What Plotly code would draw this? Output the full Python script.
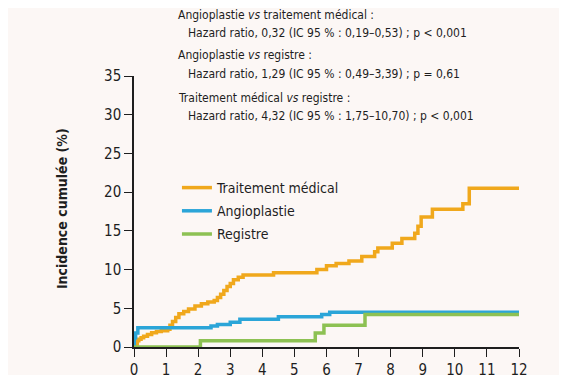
import plotly.graph_objects as go

# ---- data ----
t_med = [0, 0.05, 0.1, 0.15, 0.22, 0.3, 0.42, 0.55, 0.7, 0.85, 1.05, 1.12, 1.2, 1.3, 1.4, 1.55, 1.7, 1.9, 2.1, 2.3,
         2.5, 2.6, 2.7, 2.8, 2.9, 3.0, 3.1, 3.25, 3.4, 4.35, 5.7, 6.0, 6.3, 6.7, 7.1, 7.5, 7.6, 8.05, 8.35, 8.75,
         8.85, 8.95, 9.3, 10.25, 10.45, 12]
y_med = [0, 0.4, 0.8, 1.0, 1.2, 1.4, 1.6, 1.85, 2.0, 2.1, 2.3, 2.8, 3.3, 3.8, 4.3, 4.6, 4.9, 5.3, 5.6, 5.8,
         6.0, 6.4, 6.8, 7.3, 7.8, 8.2, 8.7, 9.0, 9.3, 9.6, 10.0, 10.5, 10.8, 11.1, 11.7, 12.3, 12.8, 13.4, 14.0, 14.7,
         15.6, 16.8, 17.8, 18.5, 20.5, 20.5]

t_angio = [0, 0.01, 0.05, 0.12, 2.4, 2.6, 3.0, 3.3, 4.5, 5.85, 6.1, 12]
y_angio = [0, 1.2, 1.8, 2.5, 2.7, 2.9, 3.2, 3.6, 3.9, 4.2, 4.5, 4.5]

t_reg = [0, 2.07, 5.65, 5.92, 7.2, 12]
y_reg = [0, 0.8, 1.8, 2.8, 4.2, 4.2]

x_ticks = list(range(0, 13))
y_ticks = [0, 5, 10, 15, 20, 25, 30, 35]

series_names = ["Traitement médical", "Angioplastie", "Registre"]
colors = ["#F0A81C", "#2BA5D8", "#8DC153"]

annot_lines = [
    ("Angioplastie <i>vs</i> traitement médical :", 0),
    ("Hazard ratio, 0,32 (IC 95 % : 0,19–0,53) ; p < 0,001", 1),
    ("Angioplastie <i>vs</i> registre :", 0),
    ("Hazard ratio, 1,29 (IC 95 % : 0,49–3,39) ; p = 0,61", 1),
    ("Traitement médical <i>vs</i> registre :", 0),
    ("Hazard ratio, 4,32 (IC 95 % : 1,75–10,70) ; p < 0,001", 1),
]
y_title = "Incidence cumulée (%)"

FONT = "DejaVu Sans Condensed, Liberation Sans Narrow, sans-serif"
BG = "#FCF7F5"
TXT = "#1E1E1E"

OFF = 8  # page body margin
W, H = 567, 375
L, R, T, B = 134 - OFF, 567 - (519.5 - OFF), 76 - OFF, 375 - (347 - OFF)
pw, ph = W - L - R, H - T - B

def px2x(px):
    return (px - OFF - L) / pw

def px2y(py):
    return (H - B - (py - OFF)) / ph

fig = go.Figure()
for i, (name, tx, ty, c) in enumerate(zip(series_names, [t_med, t_angio, t_reg], [y_med, y_angio, y_reg], colors)):
    fig.add_trace(go.Scatter(x=tx, y=ty, mode="lines", name=name, legendgroup=f"g{i}",
                             line=dict(color=c, width=3.5, shape="hv")))

ys = [15, 33, 55, 74, 98, 116]
for (txt, ind), py in zip(annot_lines, ys):
    fig.add_annotation(text=txt, xref="paper", yref="paper", x=px2x(176 + 10 * ind), y=px2y(py),
                       xanchor="left", yanchor="middle", showarrow=False,
                       font=dict(family=FONT, size=12, color=TXT))

fig.add_annotation(text="<b>" + y_title + "</b>", xref="paper", yref="paper", x=px2x(62), y=px2y(209),
                   xanchor="center", yanchor="middle", textangle=-90, showarrow=False,
                   font=dict(family=FONT, size=14, color=TXT))

fig.update_layout(
    width=W, height=H,
    margin=dict(l=L, r=R, t=T, b=B, autoexpand=False),
    paper_bgcolor=BG, plot_bgcolor=BG,
    font=dict(family=FONT, color=TXT),
    showlegend=True,
    legend=dict(x=px2x(177), y=px2y(172), xanchor="left", yanchor="top",
                bgcolor="rgba(0,0,0,0)", font=dict(family=FONT, size=14, color=TXT),
                tracegroupgap=2),
    xaxis=dict(range=[0, 12], tickvals=x_ticks, ticktext=[str(v) for v in x_ticks], automargin=False,
               showgrid=False, zeroline=False, showline=True, linecolor=TXT, linewidth=1.5,
               ticks="outside", ticklen=8, tickwidth=1.3, tickcolor=TXT,
               tickfont=dict(family=FONT, size=15, color=TXT)),
    yaxis=dict(range=[0, 35], tickvals=y_ticks, ticktext=[str(v) for v in y_ticks], automargin=False,
               showgrid=False, zeroline=False, showline=True, linecolor=TXT, linewidth=1.5,
               ticks="outside", ticklen=8, tickwidth=1.3, tickcolor=TXT,
               tickfont=dict(family=FONT, size=15, color=TXT)),
)

fig.write_html("out.html")
